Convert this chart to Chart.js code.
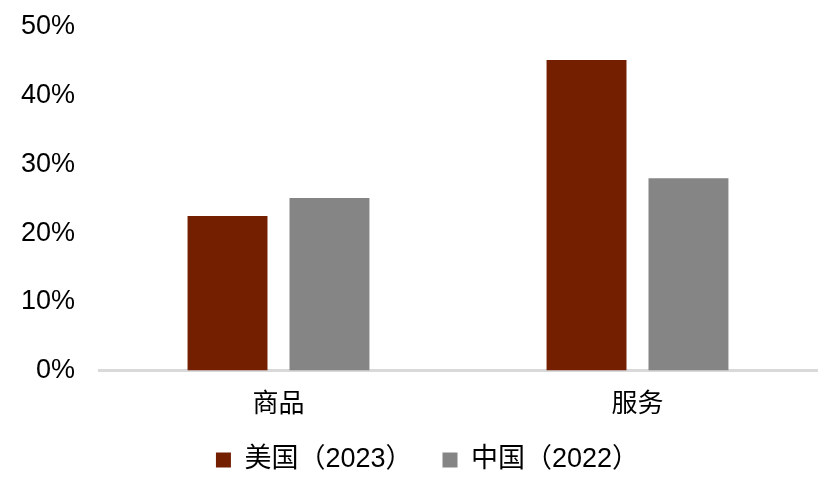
<!DOCTYPE html>
<html>
<head>
<meta charset="utf-8">
<script src="https://cdn.jsdelivr.net/npm/chart.js@4"></script>
<style>
html,body{margin:0;padding:0;background:#fff;}
#wrap{width:828px;height:482px;position:relative;}
</style>
</head>
<body>
<div id="wrap"><canvas id="c"></canvas></div>
<script>
const categories = ['商品', '服务'];
const seriesNames = ['美国（2023）', '中国（2022）'];
const usValues = [22.5, 45.2];
const cnValues = [25.1, 28.0];
const yTicks = [0, 10, 20, 30, 40, 50];

const FONT = '"Liberation Sans", Arial, "Noto Sans CJK SC", sans-serif';

const legendShift = {
  id: 'legendShift',
  afterLayout(chart) {
    const l = chart.legend;
    if (l) { l.left += 19; l.right += 19; }
  }
};

new Chart(document.getElementById('c'), {
  type: 'bar',
  data: {
    labels: categories,
    datasets: [
      { label: seriesNames[0], data: usValues, backgroundColor: '#741F00', borderWidth: 0 },
      { label: seriesNames[1], data: cnValues, backgroundColor: '#858585', borderWidth: 0 }
    ]
  },
  plugins: [legendShift],
  options: {
    responsive: true,
    maintainAspectRatio: false,
    animation: false,
    devicePixelRatio: 1,
    layout: { padding: { left: 0, right: 11, top: 27, bottom: 0 } },
    datasets: { bar: { categoryPercentage: 0.568, barPercentage: 0.784 } },
    plugins: {
      tooltip: { enabled: false },
      legend: {
        position: 'bottom',
        maxHeight: 65.5,
        labels: {
          boxWidth: 15, boxHeight: 15, padding: 30,
          color: '#000',
          font: { family: FONT, size: 27 }
        }
      }
    },
    scales: {
      x: {
        grid: { display: false, drawTicks: false },
        border: { display: true, color: '#D9D9D9', width: 3 },
        ticks: { color: '#000', font: { family: FONT, size: 26 }, padding: 19 },
        afterFit: (s) => { s.height = 46; }
      },
      y: {
        min: 0, max: 50,
        afterBuildTicks: (axis) => { axis.ticks = yTicks.map(v => ({ value: v })); },
        grid: { display: false, drawTicks: false },
        border: { display: false },
        ticks: {
          color: '#000', padding: 24,
          font: { family: FONT, size: 27 },
          callback: (v) => v + '%'
        },
        afterFit: (s) => { s.width = 99; s.paddingTop = 0; s.paddingBottom = 0; }
      }
    }
  }
});
</script>
</body>
</html>
